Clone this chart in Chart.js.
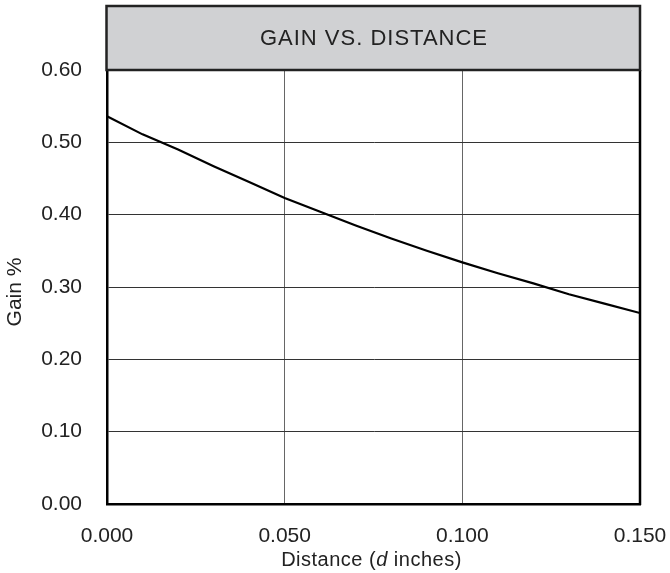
<!DOCTYPE html>
<html>
<head>
<meta charset="utf-8">
<script src="https://cdn.jsdelivr.net/npm/chart.js@4.4.0/dist/chart.umd.min.js"></script>
<style>
html,body{margin:0;padding:0;background:#fff;}
#wrap{width:670px;height:573px;position:relative;}
</style>
</head>
<body>
<div id="wrap"><canvas id="c" width="670" height="573"></canvas></div>
<script>
const chartTitle = "GAIN VS. DISTANCE";
const xAxisTitleParts = [["Distance (", false], ["d", true], [" inches)", false]];
const yAxisTitle = "Gain %";
const distance = [0.00, 0.01, 0.02, 0.03, 0.04, 0.05, 0.06, 0.07, 0.08, 0.09, 0.10, 0.11, 0.12, 0.13, 0.14, 0.15];
const gain     = [0.536, 0.511, 0.490, 0.467, 0.445, 0.423, 0.404, 0.385, 0.367, 0.350, 0.334, 0.319, 0.305, 0.290, 0.277, 0.264];
const xTicks = [0.000, 0.050, 0.100, 0.150];
const yTicks = [0.00, 0.10, 0.20, 0.30, 0.40, 0.50, 0.60];

const FONT = "'Liberation Sans', Arial, sans-serif";

const decor = {
  id: 'decor',
  afterDraw(chart) {
    const ctx = chart.ctx, a = chart.chartArea;
    ctx.save();
    // right border
    ctx.strokeStyle = '#000'; ctx.lineWidth = 2.5;
    ctx.beginPath(); ctx.moveTo(a.right, a.top); ctx.lineTo(a.right, a.bottom + 1); ctx.stroke();
    // title box
    const top = 6;
    ctx.fillStyle = '#d0d1d3';
    ctx.fillRect(a.left - 1, top, a.right - a.left + 1, a.top - top);
    ctx.strokeStyle = '#222';
    ctx.lineWidth = 2.5;
    ctx.strokeRect(a.left - 0.5, top, a.right - a.left + 0.5, a.top - top);
    ctx.fillStyle = '#222';
    ctx.font = "22px " + FONT;
    ctx.letterSpacing = '1px';
    ctx.textAlign = 'left'; ctx.textBaseline = 'middle';
    const tw = ctx.measureText(chartTitle).width - 1;
    ctx.fillText(chartTitle, (a.left + a.right) / 2 - tw / 2, (top + a.top) / 2 + 1);
    // x axis title with italic d
    ctx.textBaseline = 'alphabetic';
    ctx.letterSpacing = '0.5px';
    let total = 0;
    const fonts = xAxisTitleParts.map(p => (p[1] ? 'italic ' : '') + "20px " + FONT);
    xAxisTitleParts.forEach((p, i) => { ctx.font = fonts[i]; total += ctx.measureText(p[0]).width; });
    let x = (a.left + a.right) / 2 - 2 - total / 2;
    xAxisTitleParts.forEach((p, i) => { ctx.font = fonts[i]; ctx.fillText(p[0], x, 566); x += ctx.measureText(p[0]).width; });
    // y axis title
    ctx.letterSpacing = '0px';
    ctx.translate(15, 292);
    ctx.rotate(-Math.PI / 2);
    ctx.textAlign = 'center';
    ctx.textBaseline = 'middle';
    ctx.font = "21px " + FONT;
    ctx.fillText(yAxisTitle, 0, 0);
    ctx.restore();
  }
};

new Chart(document.getElementById('c'), {
  type: 'line',
  data: {
    datasets: [{
      data: distance.map((d, i) => ({x: d, y: gain[i]})),
      borderColor: '#000',
      borderWidth: 2.2,
      pointRadius: 0,
      tension: 0,
      fill: false
    }]
  },
  options: {
    responsive: false,
    animation: false,
    layout: {padding: {top: 70, right: 30, left: 0, bottom: 0}},
    plugins: {legend: {display: false}, tooltip: {enabled: false}, title: {display: false}},
    scales: {
      x: {
        type: 'linear', min: 0, max: 0.15,
        afterBuildTicks: s => { s.ticks = xTicks.map(v => ({value: v})); },
        afterFit: s => { s.height = 69; s.paddingLeft = 0; s.paddingRight = 0; },
        ticks: {color: '#222', font: {family: FONT, size: 21}, padding: 20,
                callback: v => v.toFixed(3), maxRotation: 0, autoSkip: false},
        grid: {color: '#666', lineWidth: 1, drawTicks: false},
        border: {display: true, color: '#000', width: 2.5}
      },
      y: {
        type: 'linear', min: 0, max: 0.6,
        afterBuildTicks: s => { s.ticks = yTicks.map(v => ({value: v})); },
        afterFit: s => { s.width = 107; s.paddingTop = 0; s.paddingBottom = 0; },
        ticks: {color: '#222', font: {family: FONT, size: 21}, padding: 25,
                callback: v => v.toFixed(2)},
        grid: {color: '#333', lineWidth: 1, drawTicks: false},
        border: {display: true, color: '#000', width: 2.5}
      }
    }
  },
  plugins: [decor]
});
</script>
</body>
</html>
